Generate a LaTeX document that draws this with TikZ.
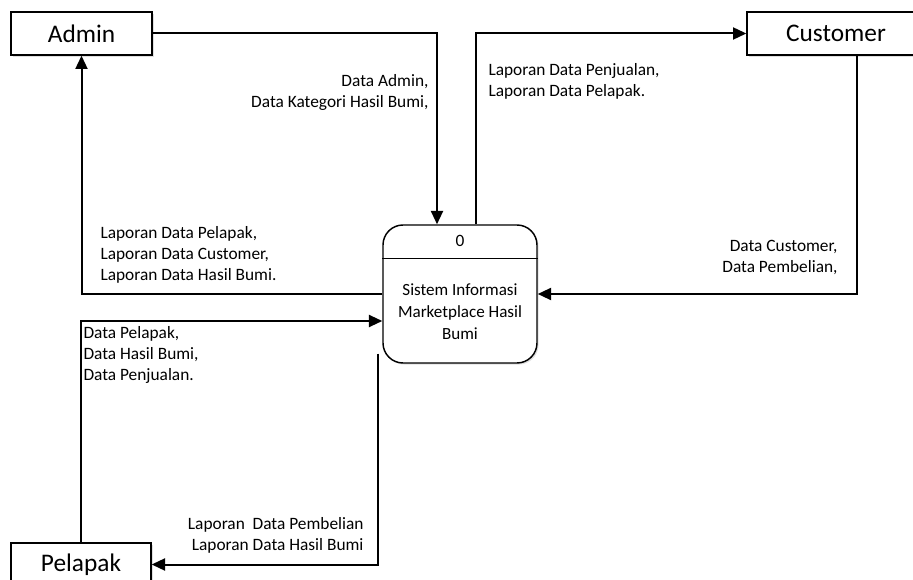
\documentclass[tikz,border=0pt]{standalone}
\usepackage{fontspec}
\setmainfont{Carlito}
\usetikzlibrary{arrows.meta,calc,shadows}

\tikzset{every picture/.style={line width=0.75pt}}
\tikzset{
	entity/.style={draw, fill=white, line width=1pt, inner sep=0pt, minimum height=32.25pt,
		font=\fontsize{19}{22}\selectfont,
		drop shadow={shadow xshift=1.2pt, shadow yshift=-1.2pt, opacity=0.25, fill=gray}},
	process/.style={draw, fill=white, line width=1.1pt, rounded corners=15pt, inner sep=0pt,
		minimum width=115.5pt, minimum height=103.5pt,
		drop shadow={shadow xshift=1.2pt, shadow yshift=-1.2pt, opacity=0.25, fill=gray}},
	flow/.style={line width=1.5pt, -{Triangle[length=10pt,width=9pt]}},
	flowlabel/.style={inner sep=0pt, font=\fontsize{13}{15.75}\selectfont},
}

\begin{document}
\begin{tikzpicture}[x=0.75pt,y=0.75pt,yscale=-1,xscale=1]
	\useasboundingbox (0,0) rectangle (913,580);

	% External entities
	\node[entity, minimum width=105.75pt] (admin) at (81.5,33.5) {Admin};
	\node[entity, minimum width=133.5pt] (cust) at (836,33.5) {Customer};
	\node[entity, minimum width=105pt] (pel) at (81,564.5) {Pelapak};

	% Process 0
	\node[process] (proc) at (460,294) {};
	\draw[line width=1pt] ($(proc.north west)+(0,34)$) -- ($(proc.north east)+(0,34)$);
	\node[flowlabel] (procnum) at ($(proc.north)+(0,17)$) {0};
	\node[flowlabel, align=center, font=\fontsize{12.8}{16.5}\selectfont] (proctext) at ($(proc.center)+(0,18)$) {Sistem Informasi\\Marketplace Hasil\\Bumi};

	% Data flows
	\draw[flow] (admin.east) -| ($(proc.north)+(-23,0)$);
	\draw[flow] ($(proc.north)+(16,0)$) |- (cust.west);
	\draw[flow] (proc.west) -| (admin.south);
	\draw[flow] ($(cust.south)+(21,0)$) |- (proc.east);
	\draw[flow] (pel.north) |- ($(proc.west)+(0,27)$);
	\draw[flow] ($(proc.south west)+(-4,-10)$) |- (pel.east);

	% Flow labels
	\node[flowlabel, align=right, anchor=east] (lbladmin) at (429,92) {Data Admin,\\Data Kategori Hasil Bumi,};
	\node[flowlabel, align=left, anchor=west] (lblcust) at (488,81) {Laporan Data Penjualan,\\Laporan Data Pelapak.};
	\node[flowlabel, align=left, anchor=west] (lblrep) at (100,255) {Laporan Data Pelapak,\\Laporan Data Customer,\\Laporan Data Hasil Bumi.};
	\node[flowlabel, align=right, anchor=east] (lblbuy) at (838,257) {Data Customer,\\Data Pembelian,};
	\node[flowlabel, align=left, anchor=west] (lblpel) at (83,355) {Data Pelapak,\\Data Hasil Bumi,\\Data Penjualan.};
	\node[flowlabel, align=right, anchor=east] (lblpelrep) at (364,535) {Laporan~~Data Pembelian\\Laporan Data Hasil Bumi};

\end{tikzpicture}
\end{document}
